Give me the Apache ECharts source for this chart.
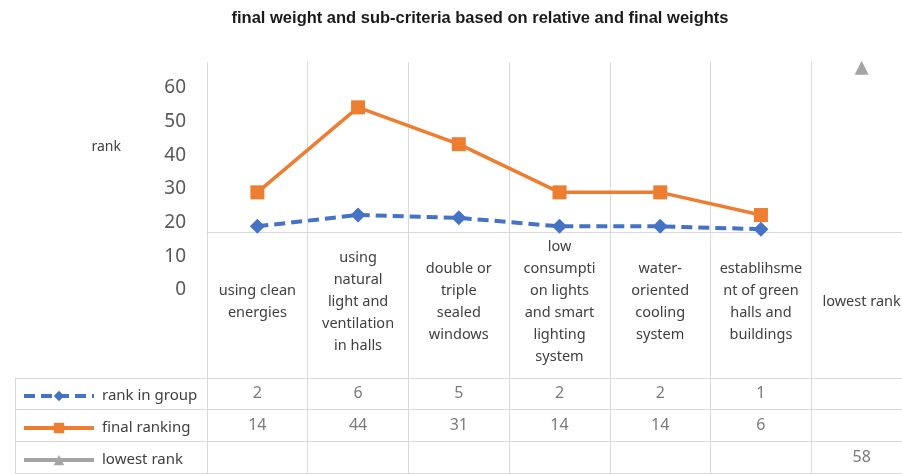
<!DOCTYPE html>
<html>
<head>
<meta charset="utf-8">
<script src="https://cdn.jsdelivr.net/npm/echarts@6/dist/echarts.min.js"></script>
<style>
html,body{margin:0;padding:0;background:#fff;}
#chart{width:902px;height:474px;}
</style>
</head>
<body>
<div id="chart"></div>
<script>
// 类目（按原图换行）
var categories = [
    'using clean\nenergies',
    'using\nnatural\nlight and\nventilation\nin halls',
    'double or\ntriple\nsealed\nwindows',
    'low\nconsumpti\non lights\nand smart\nlighting\nsystem',
    'water-\noriented\ncooling\nsystem',
    'establihsme\nnt of green\nhalls and\nbuildings',
    'lowest rank'
];
var seriesNames = ['rank in group', 'final ranking', 'lowest rank'];
var rankInGroup = [2, 6, 5, 2, 2, 1, null];
var finalRanking = [14, 44, 31, 14, 14, 6, null];
var lowestRank = [null, null, null, null, null, null, 58];
var yMin = 0, yMax = 60, yStep = 10;
var titleText = 'final weight and sub-criteria based on relative and final weights';
var axisName = 'rank';

var gridColor = '#d9d9d9';
var font = "'Noto Sans', 'Open Sans', sans-serif";

// 数据表的一行
function tableRow(values, row){
    var out = [];
    for (var i = 0; i < values.length; i++) {
        if (values[i] != null) out.push([i, row, values[i]]);
    }
    return out;
}
function tableSeries(values, row){
    return {
        name: 'table' + row,
        type: 'scatter',
        xAxisIndex: 3, yAxisIndex: 3,
        symbolSize: 1,
        itemStyle: {color: 'transparent'},
        label: {
            show: true, position: 'inside',
            formatter: function(p){ return p.value[2]; },
            fontSize: 16, color: '#595959', fontFamily: font
        },
        silent: true,
        data: tableRow(values, row)
    };
}
function gridBox(left, top, width, height){
    return {left: left, top: top, width: width, height: height, outerBoundsMode: 'none', containLabel: false};
}

var myChart = echarts.init(document.getElementById('chart'));
var option = {
    animation: false,
    backgroundColor: '#fff',
    title: {
        text: titleText,
        left: 475, top: 5,
        textAlign: 'center',
        textStyle: {fontSize: 16.5, fontWeight: 'bold', color: '#1a1a1a', fontFamily: "'Liberation Sans Narrow', 'Liberation Sans', sans-serif"}
    },
    legend: {
        data: seriesNames,
        orient: 'vertical',
        left: 22, top: 386,
        padding: 0,
        itemWidth: 70, itemHeight: 13,
        itemGap: 12,
        lineStyle: {width: 4},
        textStyle: {fontSize: 15, color: '#404040', fontFamily: font, lineHeight: 20, padding: [0, 0, 0, 3]}
    },
    grid: [
        gridBox(207, 62, 705, 170),   // 折线区
        gridBox(207, 88, 705, 202),   // 纵轴刻度
        gridBox(207, 232, 705, 146),  // 类目标签区
        gridBox(207, 378, 705, 95),   // 数据表
        gridBox(15, 378, 192, 95)     // 图例列
    ],
    xAxis: [
        {
            gridIndex: 0, type: 'category', data: categories, boundaryGap: true,
            axisLine: {show: true, lineStyle: {color: gridColor, width: 1}},
            axisTick: {show: false},
            axisLabel: {
                interval: 0, margin: 70, verticalAlign: 'middle', align: 'center',
                fontSize: 14.5, lineHeight: 22, color: '#404040', fontFamily: font
            },
            splitLine: {show: true, interval: 0, lineStyle: {color: gridColor, width: 1}}
        },
        {gridIndex: 1, type: 'category', data: categories, show: false},
        {
            gridIndex: 2, type: 'category', data: categories, boundaryGap: true,
            axisLine: {show: false}, axisTick: {show: false}, axisLabel: {show: false},
            splitLine: {show: true, interval: 0, lineStyle: {color: gridColor, width: 1}}
        },
        {
            gridIndex: 3, type: 'category', data: categories, boundaryGap: true,
            axisLine: {show: false}, axisTick: {show: false}, axisLabel: {show: false},
            splitLine: {show: true, interval: 0, lineStyle: {color: gridColor, width: 1}}
        },
        {gridIndex: 4, type: 'value', show: false}
    ],
    yAxis: [
        {
            gridIndex: 0, type: 'value', min: yMin, max: yMax,
            axisLine: {show: false}, axisTick: {show: false}, axisLabel: {show: false},
            splitLine: {show: false},
            name: axisName, nameLocation: 'middle', nameRotate: 0, nameGap: 86,
            nameTextStyle: {fontSize: 14, color: '#404040', fontFamily: font, align: 'right', verticalAlign: 'middle'}
        },
        {
            gridIndex: 1, type: 'value', min: yMin, max: yMax, interval: yStep,
            axisLine: {show: false}, axisTick: {show: false}, splitLine: {show: false},
            axisLabel: {margin: 21, fontSize: 19, color: '#595959', fontFamily: font}
        },
        {gridIndex: 2, type: 'value', show: false},
        {
            gridIndex: 3, type: 'category', data: seriesNames, inverse: true, boundaryGap: true,
            axisLine: {show: false}, axisTick: {show: false}, axisLabel: {show: false},
            splitLine: {show: true, interval: 0, lineStyle: {color: gridColor, width: 1}}
        },
        {
            gridIndex: 4, type: 'category', data: seriesNames, inverse: true, boundaryGap: true,
            axisLine: {show: true, lineStyle: {color: gridColor, width: 1}},
            axisTick: {show: false}, axisLabel: {show: false},
            splitLine: {show: true, interval: 0, lineStyle: {color: gridColor, width: 1}}
        }
    ],
    series: [
        {
            name: seriesNames[0], type: 'line', xAxisIndex: 0, yAxisIndex: 0,
            data: rankInGroup,
            symbol: 'diamond', symbolSize: 15,
            itemStyle: {color: '#4472C4'},
            lineStyle: {color: '#4472C4', width: 4, type: [11, 6]}
        },
        {
            name: seriesNames[1], type: 'line', xAxisIndex: 0, yAxisIndex: 0,
            data: finalRanking,
            symbol: 'rect', symbolSize: 14,
            itemStyle: {color: '#ED7D31'},
            lineStyle: {color: '#ED7D31', width: 3.5}
        },
        {
            name: seriesNames[2], type: 'line', xAxisIndex: 0, yAxisIndex: 0,
            data: lowestRank,
            symbol: 'triangle', symbolSize: 14,
            itemStyle: {color: '#A5A5A5'},
            lineStyle: {color: '#A5A5A5', width: 3.5}
        },
        tableSeries(rankInGroup, 0),
        tableSeries(finalRanking, 1),
        tableSeries(lowestRank, 2)
    ]
};
myChart.setOption(option);
</script>
</body>
</html>
